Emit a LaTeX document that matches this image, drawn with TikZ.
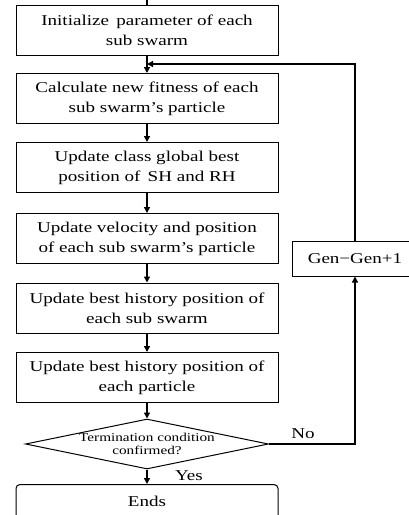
\documentclass[tikz,border=0pt]{standalone}
\usepackage{fontspec}
\setmainfont{Liberation Serif}[FakeStretch=1.27]
\usetikzlibrary{shapes.geometric,arrows.meta}
\begin{document}
\begin{tikzpicture}[x=1pt,y=-1pt,
  proc/.style={draw,line width=1pt,minimum width=262pt,minimum height=50pt,align=center,inner sep=0pt,font=\fontsize{15}{20}\selectfont},
  arr/.style={line width=1.3pt,-{Triangle[length=6pt,width=6pt]}},
  lbl/.style={font=\fontsize{15}{18}\selectfont}]
\useasboundingbox (0,0) rectangle (409,515);
\begin{scope}
\clip (0,0) rectangle (409,515);
\node[proc] (b1) at (147,30) {Initialize\, parameter of each\\sub swarm};
\node[proc] (b2) at (147,98.5) {Calculate new fitness of each\\sub swarm's particle};
\node[proc] (b3) at (147,167.5) {Update class global best\\position of\, SH and RH};
\node[proc] (b4) at (147,238.5) {Update velocity and position\\of each sub swarm's particle};
\node[proc] (b5) at (147,308) {Update best history position of\\each sub swarm};
\node[proc] (b6) at (147,377.5) {Update best history position of\\each particle};
\node[draw,line width=1pt,diamond,aspect=4.86,minimum width=243pt,minimum height=50pt,inner sep=0pt,align=center,font=\fontsize{12}{13}\selectfont] (d) at (147,444) {Termination condition\\confirmed?};
\node[draw,line width=1pt,rounded corners=4pt,minimum width=262pt,minimum height=36pt,inner sep=0pt,anchor=north] (e) at (147,484) {};
\node[font=\fontsize{15}{18}\selectfont] (et) at (147,501) {Ends};
\node[draw,line width=1pt,minimum width=126pt,minimum height=35pt,inner sep=0pt,font=\fontsize{15}{18}\selectfont] (g) at (355,258.5) {Gen−Gen+1};
\coordinate (top) at (147,-5);
\coordinate (j) at (147,64);
\coordinate (c1) at (355,64);
\coordinate (c2) at (355,444);
\draw[line width=1.3pt] (top) -- (b1.north);
\draw[arr] (b1) -- (b2);
\draw[arr] (b2) -- (b3);
\draw[arr] (b3) -- (b4);
\draw[arr] (b4) -- (b5);
\draw[arr] (b5) -- (b6);
\draw[arr] (b6) -- (d);
\draw[arr] (d) -- (e);
\draw[arr] (d.east) -- (c2) -- (g.south);
\draw[arr] (g.north) -- (c1) -- (j);
\node[lbl] (no) at (303,434) {No};
\node[lbl] (yes) at (189,476) {Yes};
\end{scope}
\end{tikzpicture}
\end{document}
